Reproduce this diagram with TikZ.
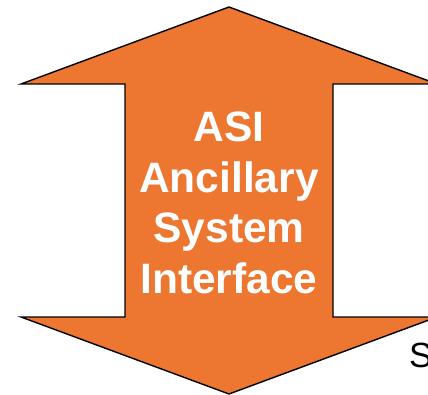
\documentclass[tikz,border=0pt]{standalone}
\usepackage{fontspec}
\setmainfont{Liberation Sans}
\definecolor{asiorange}{RGB}{237,119,49}
\begin{document}
\begin{tikzpicture}[x=1pt,y=-1pt,
  arrowshape/.style={fill=asiorange,draw=black,line width=1.4pt,line join=miter},
  labeltext/.style={text=white,font=\fontsize{42.5}{50.5}\selectfont\bfseries,align=center,inner sep=0pt},
  sidetext/.style={text=black,font=\fontsize{35}{42}\selectfont,anchor=base west,inner sep=0pt}]
\useasboundingbox (0,0) rectangle (428,395);
\draw[arrowshape] (229,7) -- (437,84) -- (333,84) -- (333,317) -- (437,317)
  -- (229,394) -- (21,317) -- (125,317) -- (125,84) -- (21,84) -- cycle;
\node[labeltext] (asi) at (229,203) {ASI\\Ancillary\\System\\Interface};
\node[sidetext] (s) at (409,367) {S};
\end{tikzpicture}
\end{document}
